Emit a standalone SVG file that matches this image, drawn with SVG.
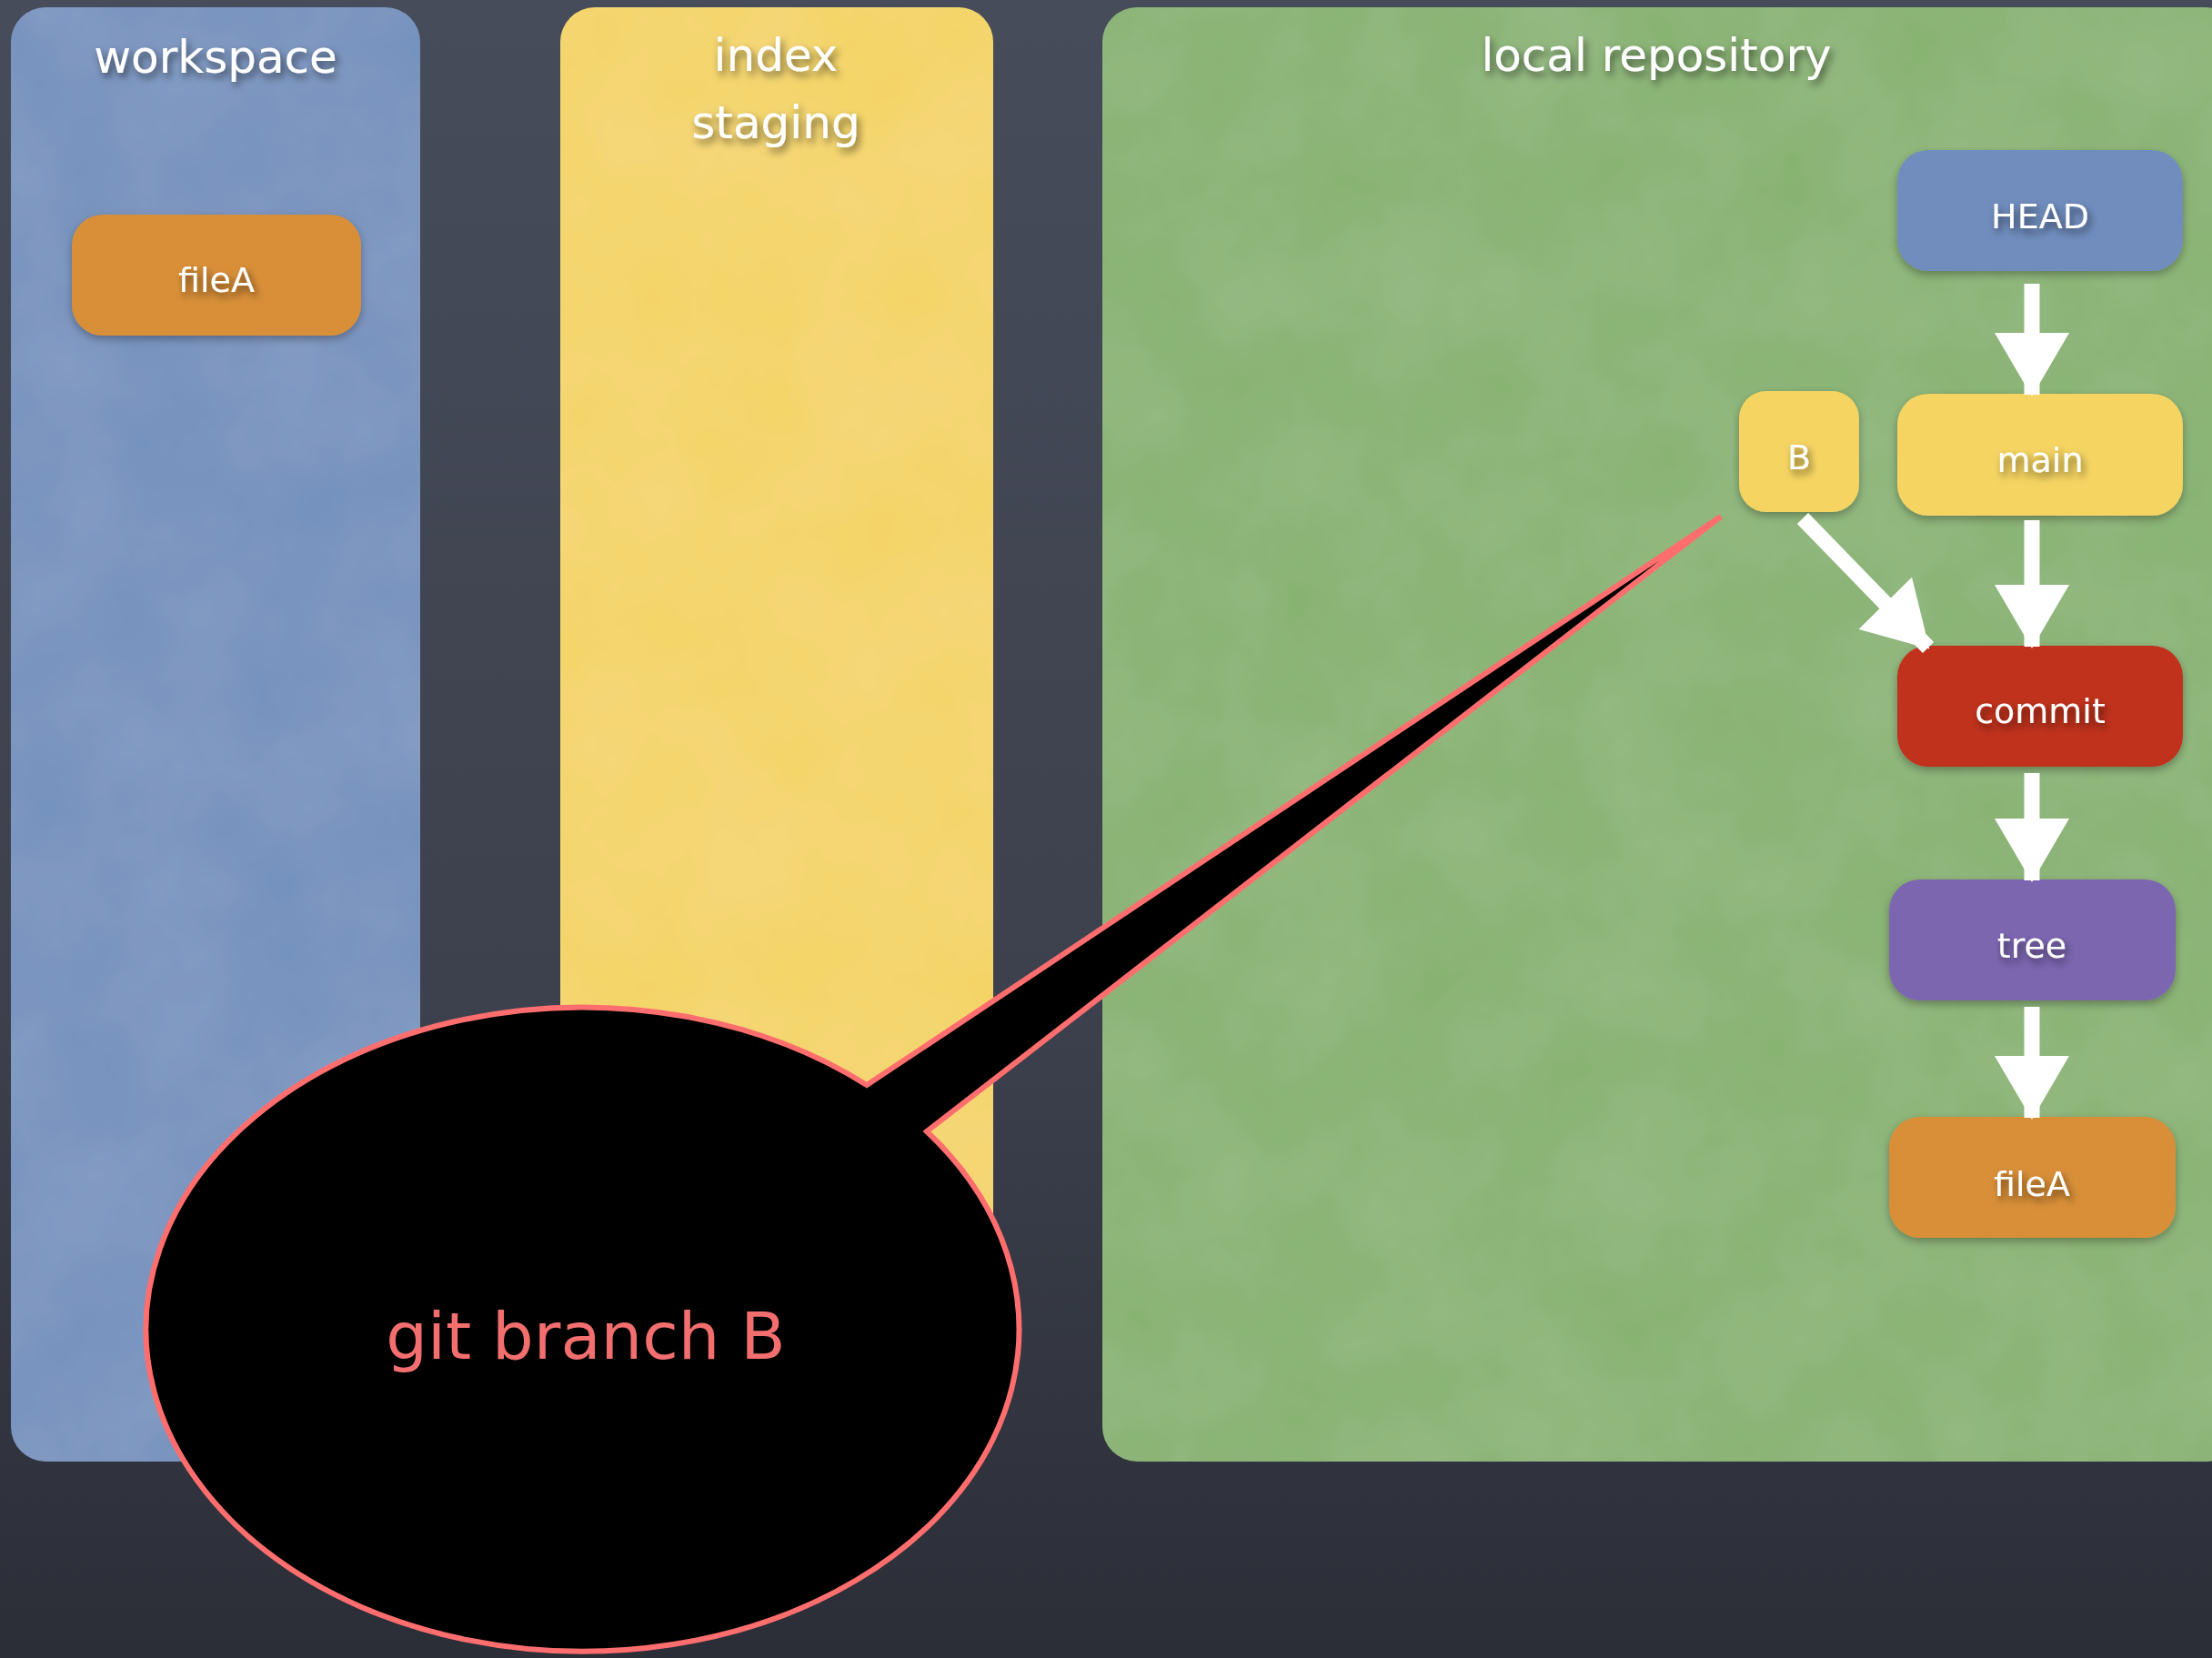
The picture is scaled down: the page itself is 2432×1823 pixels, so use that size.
<svg xmlns="http://www.w3.org/2000/svg" width="2432" height="1823" viewBox="0 0 2432 1823">
<defs>
<linearGradient id="bg" x1="0" y1="0" x2="0" y2="1">
<stop offset="0" stop-color="#474c5a"/>
<stop offset="0.6" stop-color="#3d414e"/>
<stop offset="1" stop-color="#2b2e37"/>
</linearGradient>
<filter id="tshadow" x="-20%" y="-30%" width="140%" height="170%">
<feDropShadow dx="3" dy="5" stdDeviation="4" flood-color="#000" flood-opacity="0.55"/>
</filter>
<filter id="nshadow" x="-10%" y="-10%" width="120%" height="130%">
<feDropShadow dx="0" dy="4" stdDeviation="5" flood-color="#000" flood-opacity="0.3"/>
</filter>
<filter id="grain" x="0" y="0" width="100%" height="100%">
<feTurbulence type="fractalNoise" baseFrequency="0.008" numOctaves="4" seed="7" result="n"/>
<feColorMatrix in="n" type="matrix" values="0 0 0 0 1  0 0 0 0 1  0 0 0 0 1  0 0 0 0.09 -0.01" result="w"/>
<feComposite in="w" in2="SourceGraphic" operator="in" result="wc"/>
<feMerge><feMergeNode in="SourceGraphic"/><feMergeNode in="wc"/></feMerge>
</filter>
<marker id="head" viewBox="0 0 70 82" refX="68" refY="41" markerWidth="70" markerHeight="82" markerUnits="userSpaceOnUse" orient="auto">
<path d="M0,0 L70,41 L0,82 Z" fill="#ffffff"/>
</marker>
</defs>
<style>
.panel-title{font-family:"DejaVu Sans","Noto Sans",sans-serif;font-size:50px;fill:#ffffff;text-anchor:middle;filter:url(#tshadow)}
.label{font-family:"DejaVu Sans","Noto Sans",sans-serif;font-size:38px;fill:#ffffff;text-anchor:middle;dominant-baseline:central;filter:url(#tshadow)}
.node{filter:url(#nshadow)}
.conn{stroke:#ffffff;stroke-width:17;fill:none;marker-end:url(#head)}
.bubble{fill:#000000;stroke:#ff6e6e;stroke-width:6;stroke-linejoin:miter}
.callout{font-family:"DejaVu Sans","Noto Sans",sans-serif;font-size:72px;fill:#f36f6f;text-anchor:middle}
</style>

<rect x="0" y="0" width="2432" height="1823" fill="url(#bg)"/>

<g id="panel-workspace">
<rect x="12" y="8" width="450" height="1599" rx="38" fill="#7591be" filter="url(#grain)"/>
<text class="panel-title" x="237" y="80">workspace</text>
</g>
<g id="panel-index">
<rect x="616" y="8" width="476" height="1599" rx="38" fill="#f4d466" filter="url(#grain)"/>
<text class="panel-title" x="853" y="78">index</text>
<text class="panel-title" x="853" y="152">staging</text>
</g>
<g id="panel-repo">
<rect x="1212" y="8" width="1250" height="1599" rx="38" fill="#88b272" filter="url(#grain)"/>
<text class="panel-title" x="1821" y="78">local repository</text>
</g>

<g id="node-fileA-workspace">
<rect class="node" x="79" y="236" width="318" height="133" rx="34" fill="#d98f37"/>
<text class="label" x="238" y="308">fileA</text>
</g>
<g id="node-HEAD">
<rect class="node" x="2086" y="165" width="314" height="133" rx="34" fill="#6f8dbe"/>
<text class="label" x="2243" y="238">HEAD</text>
</g>
<g id="node-B">
<rect class="node" x="1912" y="430" width="132" height="133" rx="30" fill="#f5d462"/>
<text class="label" x="1978" y="503">B</text>
</g>
<g id="node-main">
<rect class="node" x="2086" y="433" width="314" height="134" rx="34" fill="#f5d462"/>
<text class="label" x="2243" y="506">main</text>
</g>
<g id="node-commit">
<rect class="node" x="2086" y="710" width="314" height="133" rx="34" fill="#c0311f"/>
<text class="label" x="2243" y="782">commit</text>
</g>
<g id="node-tree">
<rect class="node" x="2077" y="967" width="315" height="133" rx="34" fill="#7c66b0"/>
<text class="label" x="2234" y="1040">tree</text>
</g>
<g id="node-fileA-repo">
<rect class="node" x="2077" y="1228" width="315" height="133" rx="34" fill="#d98f37"/>
<text class="label" x="2234" y="1302">fileA</text>
</g>

<g id="connectors">
<line class="conn" x1="2234" y1="312" x2="2234" y2="434"/>
<line class="conn" x1="2234" y1="572" x2="2234" y2="711"/>
<line class="conn" x1="1982" y1="570" x2="2120" y2="712"/>
<line class="conn" x1="2234" y1="850" x2="2234" y2="968"/>
<line class="conn" x1="2234" y1="1107" x2="2234" y2="1229"/>
</g>

<g id="callout">
<path class="bubble" d="M953,1193 A480,354 0 1 0 1019,1244 L1892,568 Z"/>
<text class="callout" x="644" y="1494">git branch B</text>
</g>
</svg>
